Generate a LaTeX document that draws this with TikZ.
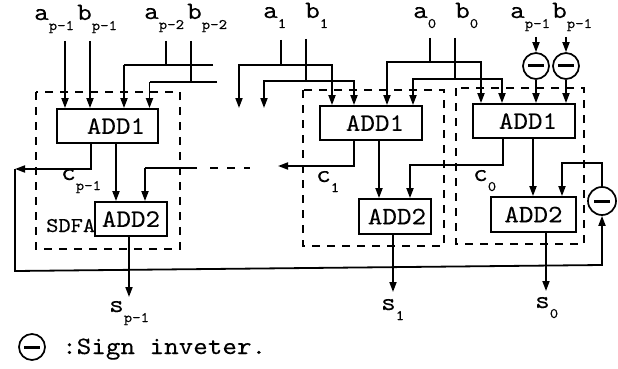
\documentclass[tikz,border=0pt]{standalone}
\usepackage{fontspec}
\usetikzlibrary{arrows.meta}
\newfontface\slabmono[FakeStretch=1.11,FakeBold=0.12]{lmmono10-regular.otf}
\newcommand{\mainsz}{\fontsize{25}{25}\selectfont\slabmono}
\newcommand{\subsz}{\fontsize{14.5}{14.5}\selectfont\slabmono}
\newcommand{\sublab}[2]{{\mainsz #1}\raisebox{-10pt}{\subsz #2}}
\tikzset{
  x=1pt,y=-1pt,
  wire/.style={line width=1.8pt},
  arr/.style={line width=1.8pt,-{Triangle[length=10pt,width=7pt]}},
  frame/.style={line width=1.6pt,dash pattern=on 8pt off 7pt},
  addbox/.style={draw,line width=1.8pt,fill=white,inner sep=0pt,font=\mainsz},
  lab/.style={anchor=base west,inner sep=0pt},
  invert/.style={draw,circle,line width=1.7pt,minimum size=26pt,inner sep=0pt,fill=white,
    path picture={\draw[line width=3pt] (path picture bounding box.center)+(-8,0) -- +(8,0);}},
}
\begin{document}
\begin{tikzpicture}
\useasboundingbox (0,0) rectangle (618,369);
% dashed SDFA frames
\draw[frame] (36,92) rectangle (180,249);
\draw[frame] (303,90) rectangle (444,246);
\draw[frame] (456,88) rectangle (584,244);
% boxes
\node[addbox,minimum width=101pt,minimum height=34pt] (A1) at (107.5,126) {\hspace*{17pt}ADD1};
\node[addbox,minimum width=72pt,minimum height=34pt] (B1) at (131,219) {ADD2};
\node[addbox,minimum width=102pt,minimum height=34pt] (A2) at (371,123) {\hspace*{8pt}ADD1};
\node[addbox,minimum width=72pt,minimum height=35pt] (B2) at (395,216.5) {\hspace*{4pt}ADD2};
\node[addbox,minimum width=102pt,minimum height=34pt] (A3) at (524,121) {\hspace*{8pt}ADD1};
\node[addbox,minimum width=85pt,minimum height=35pt] (B3) at (533.5,214.5) {ADD2};
% inverters
\node[invert] (I1) at (536,66) {};
\node[invert] (I2) at (566,66) {};
\node[invert,minimum size=28pt] (I3) at (602,201) {};
\node[invert] (I4) at (32,347) {};
% labels
\node[lab] (la3) at (34,20) {\sublab{a}{p-1}};
\node[lab] (lb3) at (77,20) {\sublab{b}{p-1}};
\node[lab] (la2) at (144,19) {\sublab{a}{p-2}};
\node[lab] (lb2) at (187,19) {\sublab{b}{p-2}};
\node[lab] (la1) at (263,18) {\sublab{a}{1}};
\node[lab] (lb1) at (305,18) {\sublab{b}{1}};
\node[lab] (la0) at (413,18) {\sublab{a}{0}};
\node[lab] (lb0) at (455,18) {\sublab{b}{0}};
\node[lab] (lan) at (510,18) {\sublab{a}{p-1}};
\node[lab] (lbn) at (552,18) {\sublab{b}{p-1}};
\node[lab] (lc3) at (61,180) {\sublab{c}{p-1}};
\node[lab] (lc1) at (316,182) {\sublab{c}{1}};
\node[lab] (lc0) at (473,181) {\sublab{c}{0}};
\node[lab] (ls3) at (109,312) {\sublab{s}{p-1}};
\node[lab] (ls1) at (381,310) {\sublab{s}{1}};
\node[lab] (ls0) at (535,308) {\sublab{s}{0}};
\node[lab,font=\fontsize{21}{21}\selectfont\slabmono] (sdfa) at (46,232) {SDFA};
\node[lab,font=\mainsz] (legend) at (62,354) {:Sign inveter.};
% free ends and junctions
\coordinate (ia3) at (65,41);
\coordinate (ib3) at (90,41);
\coordinate (ia2) at (166,41);
\coordinate (ib2) at (191,41);
\coordinate (ja2) at (166,65);
\coordinate (jb2) at (191,82);
\coordinate (ea2) at (213,65);
\coordinate (eb2) at (217,82);
\coordinate (da2) at (124,65);
\coordinate (db2) at (149.5,82);
\coordinate (ia1) at (281,40);
\coordinate (ib1) at (306,39);
\coordinate (ja1) at (281,65);
\coordinate (jb1) at (306,81);
\coordinate (t1) at (239,65);
\coordinate (t1e) at (239,108);
\coordinate (t2) at (264,81);
\coordinate (t2e) at (264,108);
\coordinate (r1) at (332,65);
\coordinate (r2) at (354,81);
\coordinate (ia0) at (430,38);
\coordinate (ib0) at (455,38);
\coordinate (ja0) at (430,62);
\coordinate (jb0) at (455,79);
\coordinate (u1) at (387,62);
\coordinate (u2) at (413,79);
\coordinate (u3) at (481,62);
\coordinate (u4) at (502,79);
\coordinate (in1) at (536,37);
\coordinate (in2) at (566,37);
% top inputs
\draw[arr] (ia3) -- (ia3 |- A1.north);
\draw[arr] (ib3) -- (ib3 |- A1.north);
\draw[wire] (ia2) -- (ja2);
\draw[wire] (ib2) -- (jb2);
\draw[wire] (ea2) -- (da2);
\draw[wire] (eb2) -- (db2);
\draw[arr] (da2) -- (da2 |- A1.north);
\draw[arr] (db2) -- (db2 |- A1.north);
\draw[wire] (ia1) -- (ja1);
\draw[wire] (ib1) -- (jb1);
\draw[arr] (r1) -- (t1) -- (t1e);
\draw[arr] (r2) -- (t2) -- (t2e);
\draw[arr] (t1) -- (r1) -- (r1 |- A2.north);
\draw[arr] (t2) -- (r2) -- (r2 |- A2.north);
\draw[wire] (ia0) -- (ja0);
\draw[wire] (ib0) -- (jb0);
\draw[arr] (u3) -- (u1) -- (u1 |- A2.north);
\draw[arr] (u4) -- (u2) -- (u2 |- A2.north);
\draw[arr] (u1) -- (u3) -- (u3 |- A3.north);
\draw[arr] (u2) -- (u4) -- (u4 |- A3.north);
\draw[arr] (in1) -- (I1.north);
\draw[arr] (in2) -- (I2.north);
\draw[arr] (I1.south) -- (I1.south |- A3.north);
\draw[arr] (I2.south) -- (I2.south |- A3.north);
% ADD1 to ADD2
\coordinate (s3) at (116,143);
\draw[arr] (s3) -- (s3 |- B1.north);
\coordinate (s2) at (379,140);
\draw[arr] (s2) -- (s2 |- B2.north);
\coordinate (s1) at (533,138);
\draw[arr] (s1) -- (s1 |- B3.north);
% carries
\coordinate (c3a) at (91,143);
\coordinate (c3b) at (91,169);
\coordinate (c3e) at (15,169);
\coordinate (lowl) at (15,271);
\coordinate (lowr) at (602,265);
\draw[arr] (c3a) -- (c3b) -- (c3e);
\draw[arr] (c3e) -- (lowl) -- (lowr) -- (I3.south);
\coordinate (c2a) at (354,140);
\coordinate (c2b) at (354,166);
\coordinate (c2e) at (278,166);
\draw[arr] (c2a) -- (c2b) -- (c2e);
\coordinate (c2d) at (197,168);
\coordinate (c2t) at (145,168);
\draw[wire] (c2d) -- (c2t);
\draw[arr] (c2t) -- (c2t |- B1.north);
\draw[wire,dash pattern=on 8pt off 9pt] (c2d)++(13,0) -- ++(40,0);
\coordinate (c1a) at (503,138);
\coordinate (c1b) at (503,165);
\coordinate (c1c) at (410,165);
\draw[arr] (c1a) -- (c1b) -- (c1c) -- (c1c |- B2.north);
% feedback of last stage
\coordinate (fb1) at (602,163);
\coordinate (fb2) at (562,163);
\draw[arr] (I3.north) -- (fb1) -- (fb2) -- (fb2 |- B3.north);
% sum outputs
\coordinate (o3) at (129,297);
\coordinate (o2) at (393,292);
\coordinate (o1) at (546,291);
\draw[arr] (o3 |- B1.south) -- (o3);
\draw[arr] (o2 |- B2.south) -- (o2);
\draw[arr] (o1 |- B3.south) -- (o1);
\end{tikzpicture}
\end{document}
